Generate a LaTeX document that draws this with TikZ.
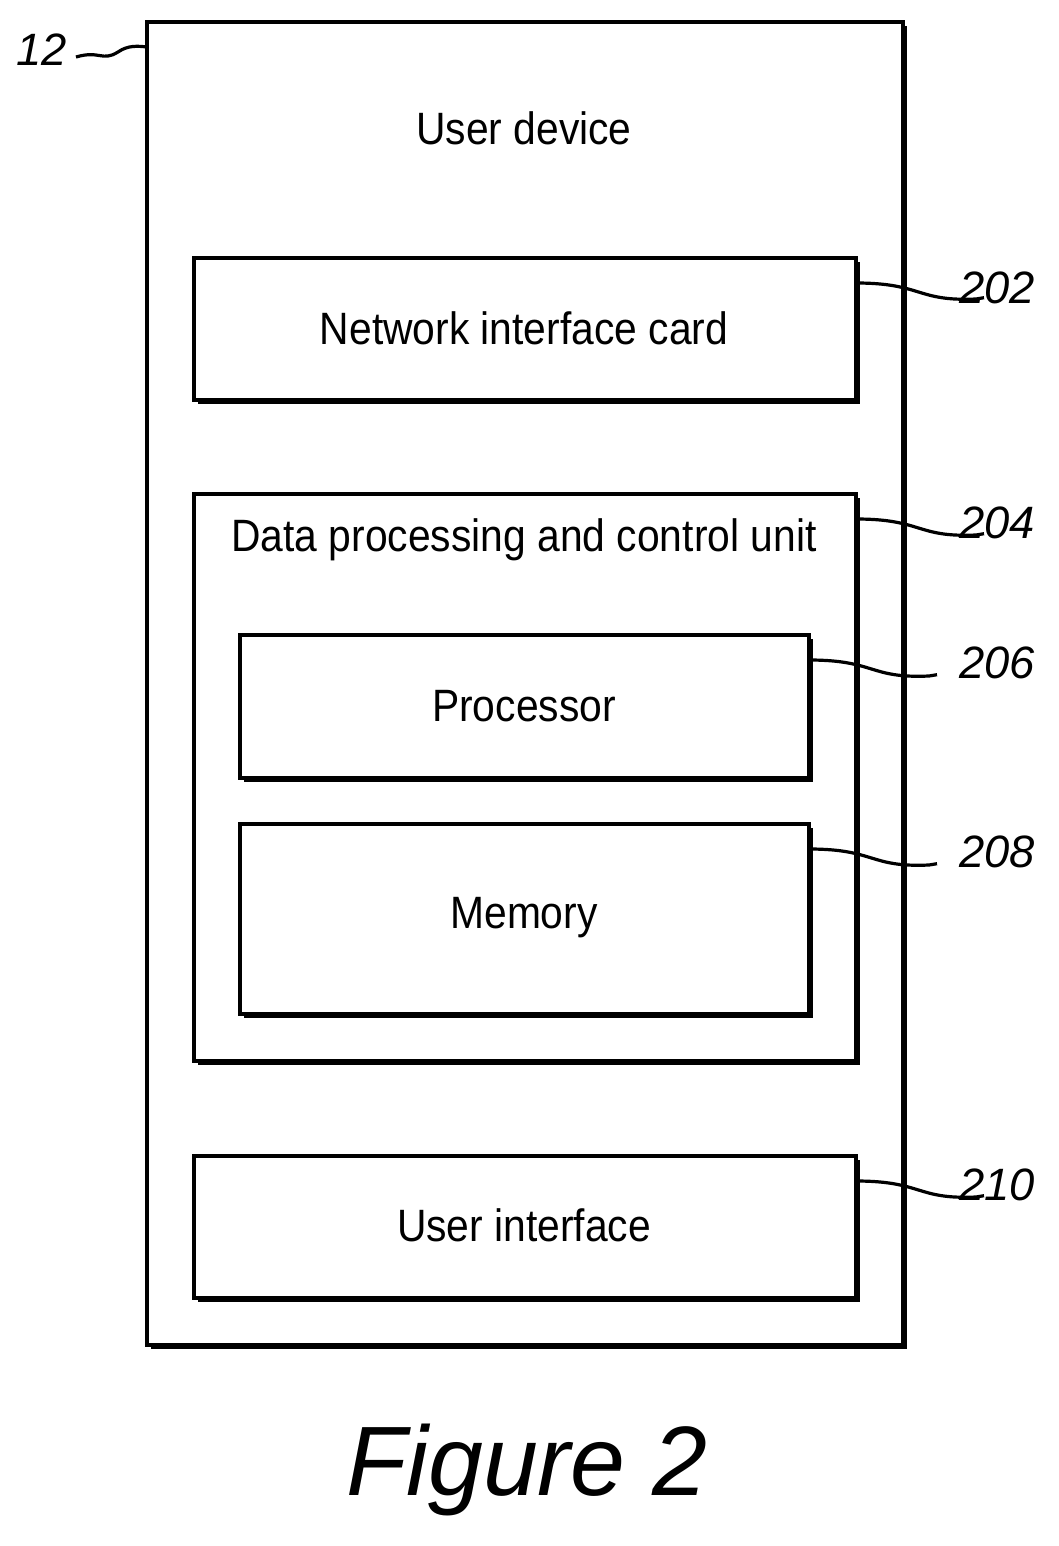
\documentclass[tikz,border=0pt]{standalone}
\usepackage{fontspec}
\setmainfont{Liberation Sans}
\newfontfamily\narrowf[FakeStretch=0.9]{Liberation Sans}
\begin{document}
\begin{tikzpicture}[x=0.75pt,y=-0.75pt,
  box/.style={draw=black,line width=2.4pt,fill=white},
  lbl/.style={font=\narrowf\fontsize{34}{40}\selectfont},
  num/.style={font=\itshape\fontsize{34}{40}\selectfont},
  sq/.style={line width=2.4pt}]
\useasboundingbox (0,0) rectangle (1058,1546);
\newcommand\shbox[5]{%
  \fill[black] (#1+4,#2+4) rectangle (#3+4,#4+4);
  \draw[box] (#1,#2) rectangle (#3,#4);
  \coordinate (#5) at (#3,#2+25);}
\shbox{147}{22}{903}{1345}{o}
\shbox{194}{258}{856}{400}{nic}
\shbox{194}{494}{856}{1061}{dp}
\shbox{240}{635}{809}{778}{pr}
\shbox{240}{824}{809}{1014}{me}
\shbox{194}{1156}{856}{1298}{ui}
\node[lbl] at (524,128) {User device};
\node[lbl] at (524,328) {Network interface card};
\node[lbl] at (524,540) {Data processing and control unit};
\node[lbl] at (524,706) {Processor};
\node[lbl] at (524,918) {Memory};
\node[lbl] at (524,1225) {User interface};
\node[font=\itshape\fontsize{74}{80}\selectfont] at (527,1470) {Figure 2};
\node[num] (n12) at (42,50) {12};
\coordinate (c12) at (147,47);
\draw[sq] (76,57) .. controls (100,50) and (102,62) .. (118,52) .. controls (128,45) and (138,46) .. (c12);
\foreach \n/\b/\y in {202/nic/288,204/dp/523,206/pr/663,208/me/852,210/ui/1185}{
  \node[num] (n\n) at (997,\y) {\n};
  \draw[sq] (\b) .. controls ([xshift=50]\b) and ([xshift=45,yshift=-14]\b) .. ([xshift=90,yshift=-12]\b) -- ([xshift=96,yshift=-11]\b);
}
\end{tikzpicture}
\end{document}
